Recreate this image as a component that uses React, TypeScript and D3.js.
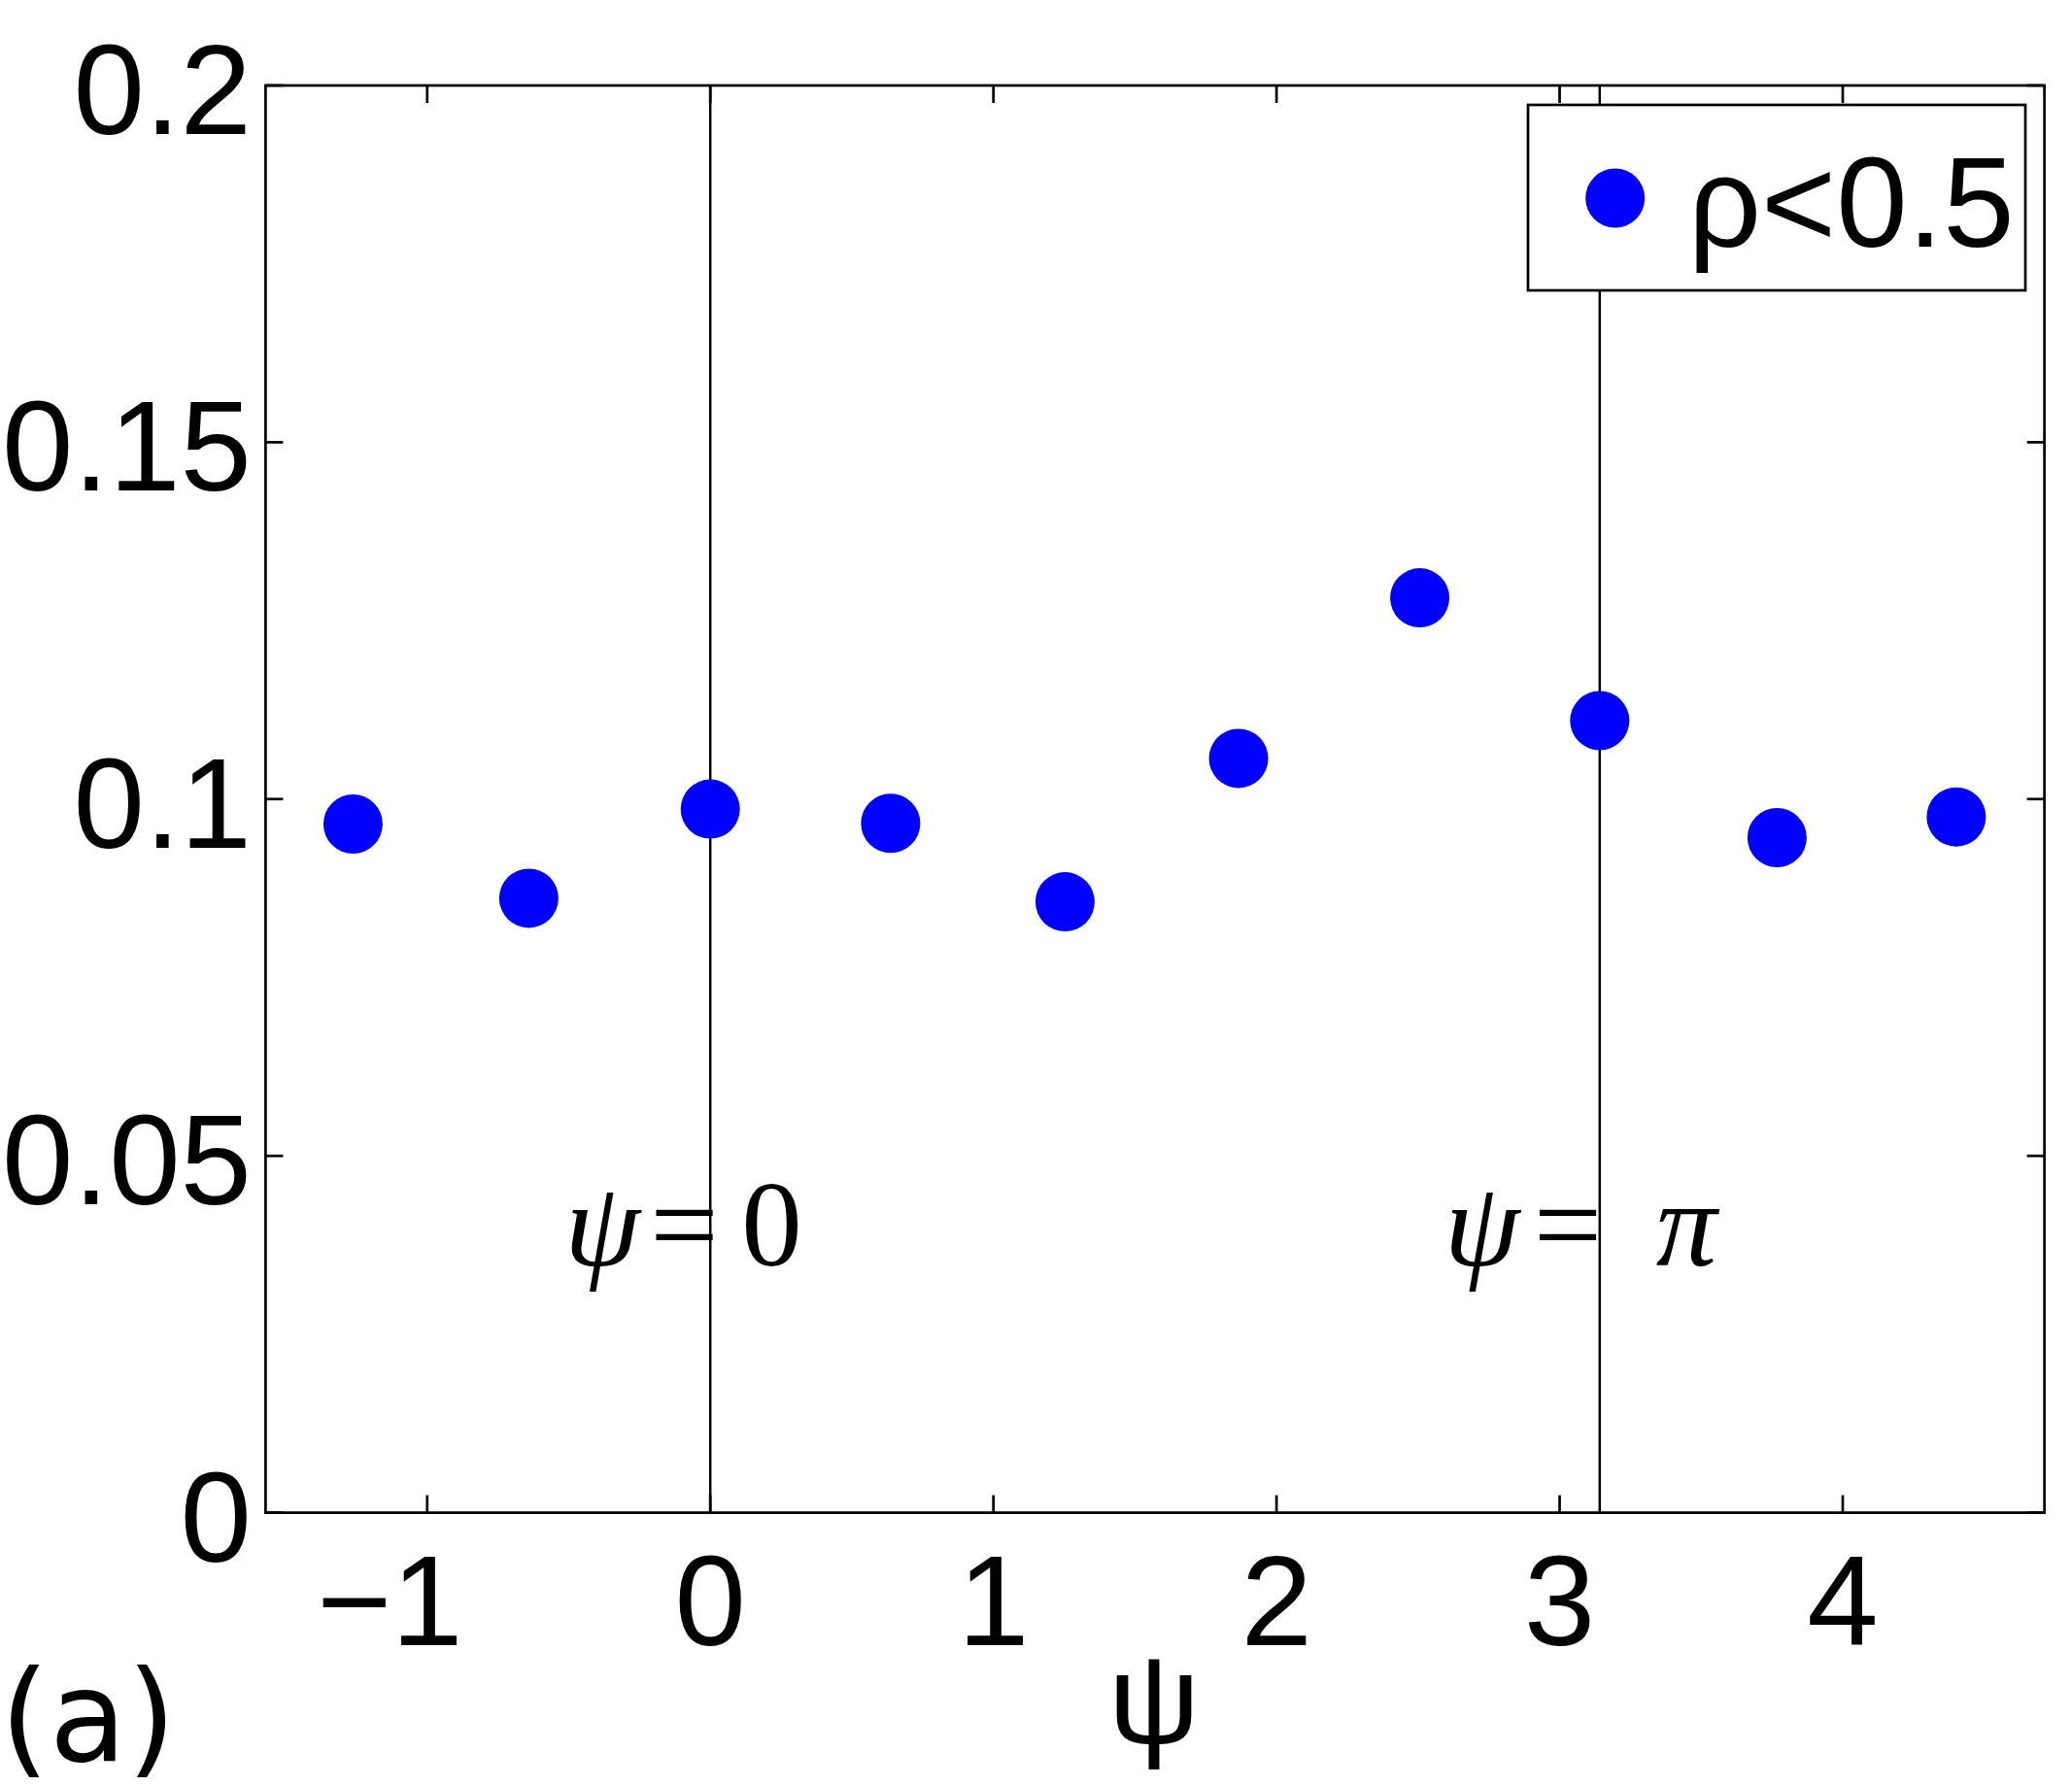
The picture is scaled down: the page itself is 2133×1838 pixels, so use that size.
import React from "react";
import * as d3 from "d3";

const psiValues = [-1.262, -0.641, 0.0, 0.637, 1.253, 1.866, 2.506, 3.1416, 3.768, 4.401];
const fraction = [0.0965, 0.0861, 0.0986, 0.0966, 0.0856, 0.1057, 0.1282, 0.111, 0.0946, 0.0975];
const xTicks = [-1, 0, 1, 2, 3, 4];
const yTicks = [0, 0.05, 0.1, 0.15, 0.2];
const yTickLabels = ["0", "0.05", "0.1", "0.15", "0.2"];
const refLines = [0, Math.PI];
const legendLabel = "ρ<0.5";

const W = 2133;
const H = 1838;
const M = { left: 273.4, right: 2104.6, top: 88, bottom: 1557.6 };

export default function App() {
  const x = d3.scaleLinear().domain([-Math.PI / 2, (3 * Math.PI) / 2]).range([M.left, M.right]);
  const y = d3.scaleLinear().domain([0, 0.2]).range([M.bottom, M.top]);
  const tickLen = 18;
  const sw = 2.7;
  const sans = "'Liberation Sans', Arial, Helvetica, sans-serif";
  const serif = "'Liberation Serif', 'Times New Roman', serif";
  const fs = 132;

  return (
    <svg
      width={W}
      height={H}
      viewBox={`0 0 ${W} ${H}`}
      style={{ position: "absolute", left: 0, top: 0, background: "#fff" }}
    >
      <rect x={0} y={0} width={W} height={H} fill="#fff" />
      {/* reference vertical lines */}
      {refLines.map((v, i) => (
        <line key={"r" + i} x1={x(v)} x2={x(v)} y1={M.top} y2={M.bottom} stroke="#000" strokeWidth={2.5} />
      ))}
      {/* ticks */}
      {xTicks.map((t) => (
        <g key={"xt" + t}>
          <line x1={x(t)} x2={x(t)} y1={M.bottom} y2={M.bottom - tickLen} stroke="#000" strokeWidth={sw} />
          <line x1={x(t)} x2={x(t)} y1={M.top} y2={M.top + tickLen} stroke="#000" strokeWidth={sw} />
          <text
            x={t < 0 ? x(t) + 0.278 * fs : x(t)}
            y={1694}
            textAnchor={t < 0 ? "end" : "middle"}
            fontFamily={sans}
            fontSize={fs}
            fill="#000"
          >
            {t < 0 ? "\u2212" + Math.abs(t) : String(t)}
          </text>
        </g>
      ))}
      {yTicks.map((t, i) => (
        <g key={"yt" + i}>
          <line x1={M.left} x2={M.left + tickLen} y1={y(t)} y2={y(t)} stroke="#000" strokeWidth={sw} />
          <line x1={M.right} x2={M.right - tickLen} y1={y(t)} y2={y(t)} stroke="#000" strokeWidth={sw} />
          <text x={259} y={y(t) + 50} textAnchor="end" fontFamily={sans} fontSize={fs} fill="#000">
            {yTickLabels[i]}
          </text>
        </g>
      ))}
      {/* axes box */}
      <rect
        x={M.left}
        y={M.top}
        width={M.right - M.left}
        height={M.bottom - M.top}
        fill="none"
        stroke="#000"
        strokeWidth={sw}
      />
      {/* points */}
      {psiValues.map((p, i) => (
        <circle key={"p" + i} cx={x(p)} cy={y(fraction[i])} r={30.5} fill="#0000ff" />
      ))}
      {/* annotations */}
      <g fontFamily={serif} fontSize={125} fill="#000">
        <text x={x(0) - 150} y={1303} fontStyle="italic">ψ</text>
        <text x={x(0) - 62} y={1303}>=</text>
        <text x={x(0) + 32} y={1303}>0</text>
        <text x={x(Math.PI) - 160} y={1303} fontStyle="italic">ψ</text>
        <text x={x(Math.PI) - 68} y={1303}>=</text>
        <text x={x(Math.PI) + 58} y={1303} fontStyle="italic">π</text>
      </g>
      {/* axis label */}
      <text x={1188} y={1795} textAnchor="middle" fontFamily={sans} fontSize={fs} fill="#000">
        ψ
      </text>
      <text x={0} y={1813} fontFamily="'DejaVu Sans', sans-serif" fontSize={130} fill="#000">
        (a)
      </text>
      {/* legend */}
      <rect x={1573} y={108} width={512} height={191} fill="#fff" stroke="#000" strokeWidth={sw} />
      <circle cx={1662.7} cy={204} r={30.5} fill="#0000ff" />
      <text x={1738} y={254} fontFamily={sans} fontSize={fs} fill="#000">
        {legendLabel}
      </text>
    </svg>
  );
}
